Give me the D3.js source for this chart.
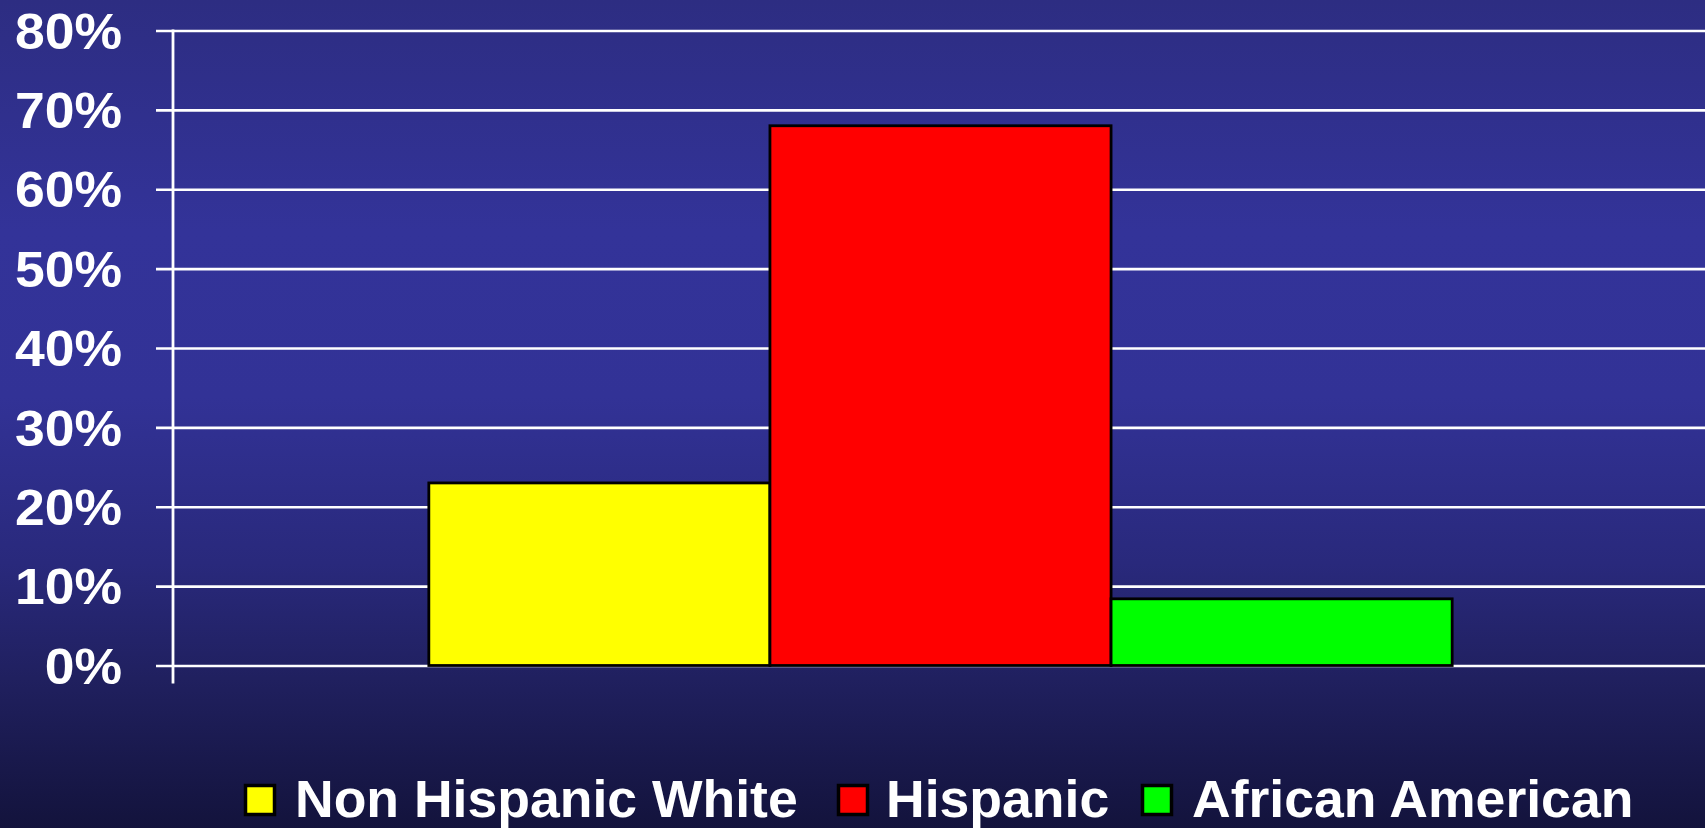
<!DOCTYPE html>
<html>
<head>
<meta charset="utf-8">
<script src="https://cdn.jsdelivr.net/npm/d3@7"></script>
<style>
  html, body { margin: 0; padding: 0; background: #14143a; overflow: hidden; }
  svg { display: block; }
  text { font-family: "Liberation Sans", Arial, Helvetica, sans-serif; font-weight: bold; fill: #ffffff; }
</style>
</head>
<body>
<svg id="chart" width="1705" height="828"></svg>
<script>
// ---- data ----
const categories = ["All"];
const seriesNames = ["Non Hispanic White", "Hispanic", "African American"];
const seriesValues = [23, 68, 8.4];
const seriesColors = ["#ffff00", "#ff0000", "#00ff00"];
const tickValues = [0, 10, 20, 30, 40, 50, 60, 70, 80];
const tickLabels = ["0%", "10%", "20%", "30%", "40%", "50%", "60%", "70%", "80%"];

// ---- layout ----
const W = 1705, H = 828;
const plotLeft = 173, plotRight = 1708, plotTop = 30.5, plotBottom = 665.5;

const svg = d3.select("#chart");

// background gradient
const defs = svg.append("defs");
const grad = defs.append("linearGradient").attr("id", "bg").attr("x1", 0).attr("y1", 0).attr("x2", 0).attr("y2", 1);
[[0, "#2d2d82"], [0.28, "#333399"], [0.48, "#323296"], [0.68, "#29297c"], [0.82, "#20205f"], [1, "#13133c"]]
  .forEach(([o, c]) => grad.append("stop").attr("offset", o).attr("stop-color", c));
svg.append("rect").attr("width", W).attr("height", H).attr("fill", "url(#bg)");

// scales
const y = d3.scaleLinear().domain([0, 80]).range([plotBottom, plotTop]);
const x0 = d3.scaleBand().domain(categories).range([plotLeft, plotRight]).paddingInner(0).paddingOuter(0.25);
const x1 = d3.scaleBand().domain(seriesNames).range([0, x0.bandwidth()]).padding(0);
const color = d3.scaleOrdinal().domain(seriesNames).range(seriesColors);

// gridlines (axis with long ticks)
const grid = svg.append("g").attr("transform", `translate(${W},0)`)
  .call(d3.axisLeft(y).tickValues(tickValues).tickSize(W - 156).tickFormat(""));
grid.select(".domain").remove();
grid.selectAll(".tick line").attr("stroke", "#ffffff").attr("stroke-width", 2.7);

// vertical axis line
svg.append("line")
  .attr("x1", plotLeft).attr("x2", plotLeft)
  .attr("y1", y(80) - 1).attr("y2", plotBottom + 18)
  .attr("stroke", "#ffffff").attr("stroke-width", 2.8);

// tick labels
const labelG = svg.append("g");
labelG.selectAll("text").data(tickValues).join("text")
  .attr("transform", d => `translate(122,${y(d)}) scale(1.06,1)`)
  .attr("text-anchor", "end")
  .attr("dy", "0.36em")
  .attr("font-size", 50.5)
  .text((d, i) => tickLabels[i]);

// bars
const data = seriesNames.map((s, i) => ({ key: s, value: seriesValues[i] }));
const barG = svg.append("g").selectAll("g").data(categories).join("g")
  .attr("transform", d => `translate(${x0(d)},0)`);
barG.selectAll("rect").data(data).join("rect")
  .attr("x", d => x1(d.key))
  .attr("y", d => y(d.value))
  .attr("width", x1.bandwidth())
  .attr("height", d => y(0) - y(d.value))
  .attr("fill", d => color(d.key))
  .attr("stroke", "#000000")
  .attr("stroke-width", 2.8);

// legend
const legendItems = [
  { key: seriesNames[0], sx: 244, tx: 295 },
  { key: seriesNames[1], sx: 837, tx: 886 },
  { key: seriesNames[2], sx: 1141, tx: 1192 }
];
const leg = svg.append("g");
legendItems.forEach(it => {
  leg.append("rect")
    .attr("x", it.sx + 1.5).attr("y", 785.5)
    .attr("width", 29).attr("height", 29)
    .attr("fill", color(it.key))
    .attr("stroke", "#000000").attr("stroke-width", 3.5);
  leg.append("text")
    .attr("transform", `translate(${it.tx},817) scale(1.05,1)`)
    .attr("font-size", 51)
    .text(it.key);
});
</script>
</body>
</html>
